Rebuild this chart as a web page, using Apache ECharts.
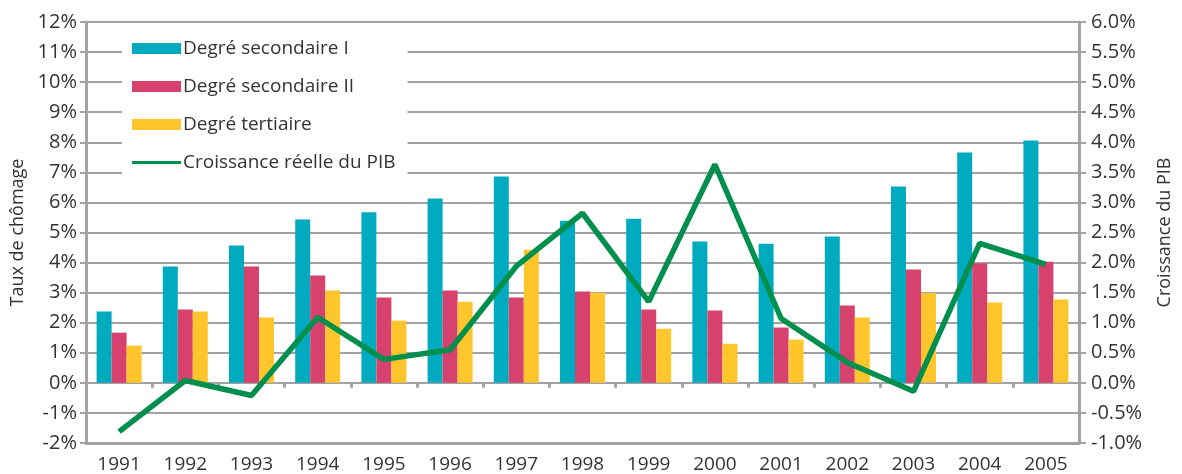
<!DOCTYPE html>
<html>
<head>
<meta charset="utf-8">
<script src="https://cdn.jsdelivr.net/npm/echarts@6/dist/echarts.min.js"></script>
<style>
  html, body { margin: 0; padding: 0; background: #fff; }
  #chart { width: 1182px; height: 474px; }
</style>
</head>
<body>
<div id="chart"></div>
<script>
// données
var years = ['1991','1992','1993','1994','1995','1996','1997','1998','1999','2000','2001','2002','2003','2004','2005'];
var secondaireI  = [2.37, 3.87, 4.57, 5.43, 5.67, 6.13, 6.86, 5.39, 5.46, 4.70, 4.63, 4.87, 6.53, 7.66, 8.06];
var secondaireII = [1.67, 2.44, 3.87, 3.57, 2.84, 3.07, 2.84, 3.04, 2.44, 2.41, 1.84, 2.57, 3.77, 3.98, 4.03];
var tertiaire    = [1.24, 2.37, 2.17, 3.07, 2.07, 2.70, 4.43, 3.00, 1.80, 1.30, 1.44, 2.17, 2.99, 2.67, 2.77];
var pib          = [-0.81, 0.04, -0.21, 1.09, 0.39, 0.55, 1.94, 2.82, 1.35, 3.63, 1.07, 0.34, -0.14, 2.32, 1.97];

var grey = '#a2a2a6';
var txt = '#333333';
var font = 'Open Sans';

/*
 * colonne simple
 */
function barSerie(name, data, color) {
	return {
		name: name,
		type: 'bar',
		data: data,
		barWidth: 15,
		barGap: 0,
		itemStyle: { color: color }
	};
}

var myChart = echarts.init(document.getElementById('chart'));
var option = {
	textStyle: { fontFamily: font, color: txt },
	grid: { left: 86, right: 98, top: 22, bottom: 31 },
	legend: {
		orient: 'vertical',
		left: 122,
		top: 33,
		padding: [6, 12, 8, 10],
		backgroundColor: '#ffffff',
		itemWidth: 49,
		itemHeight: 11,
		itemGap: 19,
		textStyle: { fontSize: 19, color: txt, fontFamily: font, padding: [0, 0, 0, -3] },
		data: [
			{ name: 'Degré secondaire I', icon: 'rect' },
			{ name: 'Degré secondaire II', icon: 'rect' },
			{ name: 'Degré tertiaire', icon: 'rect' },
			// trait fin sans point
			{ name: 'Croissance réelle du PIB', icon: 'path://M0,0 L49,0 L49,3 L0,3 Z' }
		]
	},
	xAxis: [
		{
			// axe des libellés, en bas
			type: 'category',
			data: years,
			axisLine: { onZero: false, lineStyle: { color: grey, width: 3 } },
			axisTick: { show: false },
			axisLabel: { fontSize: 19, color: txt, margin: 12 }
		},
		{
			// ligne du zéro avec graduations
			type: 'category',
			data: years,
			position: 'bottom',
			axisLine: { onZero: true, onZeroAxisIndex: 0, lineStyle: { color: grey, width: 2 } },
			axisTick: { show: true, length: 5, lineStyle: { color: grey, width: 3 } },
			axisLabel: { show: false }
		}
	],
	yAxis: [
		{
			type: 'value',
			min: -2,
			max: 12,
			interval: 1,
			name: 'Taux de chômage',
			nameLocation: 'middle',
			nameGap: 55,
			nameTextStyle: { fontSize: 18, color: txt },
			axisLine: { show: true, lineStyle: { color: grey, width: 3 } },
			axisTick: { show: true, length: 6, lineStyle: { color: grey, width: 2 } },
			axisLabel: { fontSize: 20, color: txt, margin: 9, formatter: '{value}%' },
			splitLine: { lineStyle: { color: grey, width: 2 } }
		},
		{
			type: 'value',
			min: -1,
			max: 6,
			interval: 0.5,
			name: 'Croissance du PIB',
			nameLocation: 'middle',
			nameRotate: 90,
			nameGap: 77,
			nameTextStyle: { fontSize: 18, color: txt },
			axisLine: { show: true, lineStyle: { color: grey, width: 3 } },
			axisTick: { show: true, length: 7, lineStyle: { color: grey, width: 2 } },
			axisLabel: {
				fontSize: 20, color: txt, margin: 12,
				formatter: function(v) { return v.toFixed(1) + '%'; }
			},
			splitLine: { show: false }
		}
	],
	series: [
		barSerie('Degré secondaire I', secondaireI, '#00abbf'),
		barSerie('Degré secondaire II', secondaireII, '#d6426d'),
		barSerie('Degré tertiaire', tertiaire, '#fec62c'),
		{
			name: 'Croissance réelle du PIB',
			type: 'line',
			yAxisIndex: 1,
			data: pib,
			symbol: 'none',
			z: 5,
			lineStyle: { color: '#008f4c', width: 5.5 },
			itemStyle: { color: '#008f4c' }
		}
	],
	animation: false
};
myChart.setOption(option);
</script>
</body>
</html>
